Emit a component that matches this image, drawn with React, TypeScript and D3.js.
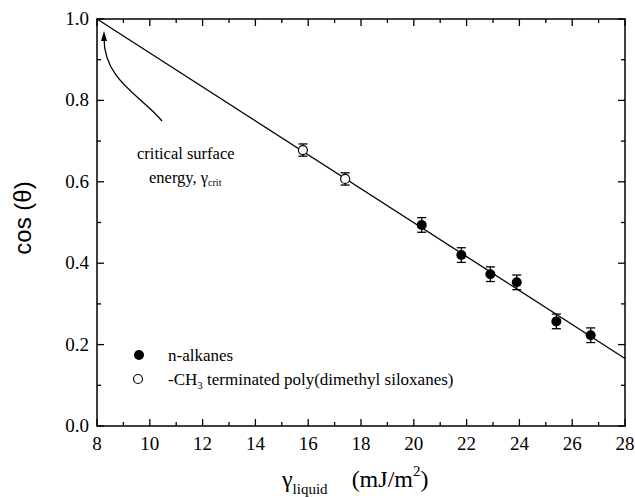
import React from "react";
import * as d3 from "d3";

const alkaneX = [20.3, 21.8, 22.9, 23.9, 25.4, 26.7];
const alkaneY = [0.494, 0.42, 0.373, 0.353, 0.257, 0.223];
const alkaneErr = [0.018, 0.018, 0.018, 0.018, 0.018, 0.018];

const pdmsX = [15.8, 17.4];
const pdmsY = [0.678, 0.607];
const pdmsErr = [0.015, 0.015];

const fitX = [8, 28];
const fitY = [1.0, 0.166];

const xTicks = [8, 10, 12, 14, 16, 18, 20, 22, 24, 26, 28];
const yTicks = [0.0, 0.2, 0.4, 0.6, 0.8, 1.0];

const W = 635, H = 498;
const L = 97, R = 625, T = 19, B = 426;

const SERIF = "'Liberation Serif', Tinos, 'Times New Roman', Times, 'DejaVu Serif'";
const SANS = "'Liberation Sans', Arial, sans-serif";

export default function App() {
  const x = d3.scaleLinear().domain([8, 28]).range([L, R]);
  const y = d3.scaleLinear().domain([0, 1]).range([B, T]);

  const xMinor = d3.range(8, 28.001, 1);
  const yMinor = d3.range(0, 1.0001, 0.1);
  const line = d3.line<number>().x((d) => x(fitX[d])).y((d) => y(fitY[d]));

  const errBar = (cx: number, cy: number, e: number, key: string) => {
    const px = x(cx), top = y(cy + e), bot = y(cy - e);
    return (
      <g key={key} stroke="#000" strokeWidth={1.3}>
        <line x1={px} x2={px} y1={top} y2={bot} />
        <line x1={px - 4.5} x2={px + 4.5} y1={top} y2={top} />
        <line x1={px - 4.5} x2={px + 4.5} y1={bot} y2={bot} />
      </g>
    );
  };

  const curve = d3.path();
  curve.moveTo(162, 121);
  curve.bezierCurveTo(140, 95, 104, 80, 104, 38);

  const st = { fontFamily: SERIF };

  return (
    <svg width={W} height={H} style={{ position: "absolute", left: 0, top: 0, background: "#fff" }}>
      <rect x={0} y={0} width={W} height={H} fill="#fff" />
      <rect x={L} y={T} width={R - L} height={B - T} fill="none" stroke="#000" strokeWidth={1.5} />
      <g stroke="#000" strokeWidth={1.3}>
        {xMinor.map((v) => {
          const major = Math.abs((v - 8) % 2) < 1e-6;
          const len = major ? 7 : 4;
          return (
            <g key={"xt" + v}>
              <line x1={x(v)} x2={x(v)} y1={B} y2={B - len} />
              <line x1={x(v)} x2={x(v)} y1={T} y2={T + len} />
            </g>
          );
        })}
        {yMinor.map((v, i) => {
          const len = i % 2 === 0 ? 7 : 4;
          return (
            <g key={"yt" + i}>
              <line x1={L} x2={L + len} y1={y(v)} y2={y(v)} />
              <line x1={R} x2={R - len} y1={y(v)} y2={y(v)} />
            </g>
          );
        })}
      </g>
      {xTicks.map((v) => (
        <text key={"xl" + v} x={x(v)} y={450} fontSize={19} textAnchor="middle" style={st}>{v}</text>
      ))}
      {yTicks.map((v) => (
        <text key={"yl" + v} x={89} y={y(v) + 6} fontSize={19} textAnchor="end" style={st}>{v.toFixed(1)}</text>
      ))}
      <text transform={`translate(31,218) rotate(-90)`} fontSize={24} textAnchor="middle" style={{ fontFamily: SANS }}>cos (θ)</text>
      <text x={282} y={487} fontSize={24} style={st}>γ<tspan fontSize={15} dy={7}>liquid</tspan><tspan dy={-7} dx={24}>(mJ/m</tspan><tspan fontSize={15} dy={-11}>2</tspan><tspan dy={11}>)</tspan></text>
      <path d={line([0, 1]) || ""} fill="none" stroke="#000" strokeWidth={1.3} />
      {pdmsX.map((v, i) => errBar(v, pdmsY[i], pdmsErr[i], "pe" + i))}
      {alkaneX.map((v, i) => errBar(v, alkaneY[i], alkaneErr[i], "ae" + i))}
      {pdmsX.map((v, i) => (
        <circle key={"pc" + i} cx={x(v)} cy={y(pdmsY[i])} r={4.5} fill="#fff" stroke="#000" strokeWidth={1.2} />
      ))}
      {alkaneX.map((v, i) => (
        <circle key={"ac" + i} cx={x(v)} cy={y(alkaneY[i])} r={5} fill="#000" />
      ))}
      <path d={curve.toString()} fill="none" stroke="#000" strokeWidth={1.3} />
      <path d="M104,31 L101,41 L107,41 Z" fill="#000" />
      <text x={137} y={159} fontSize={16.5} style={st}>critical surface</text>
      <text x={149} y={183} fontSize={16.5} style={st}>energy, γ<tspan fontSize={10} dy={3}>crit</tspan></text>
      <circle cx={139} cy={355} r={5} fill="#000" />
      <text x={168} y={361} fontSize={17} style={st}>n-alkanes</text>
      <circle cx={138} cy={379} r={4.5} fill="#fff" stroke="#000" strokeWidth={1.2} />
      <text x={168} y={385} fontSize={17} style={st}>-CH<tspan fontSize={11} dy={4}>3</tspan><tspan dy={-4}> terminated poly(dimethyl siloxanes)</tspan></text>
    </svg>
  );
}
